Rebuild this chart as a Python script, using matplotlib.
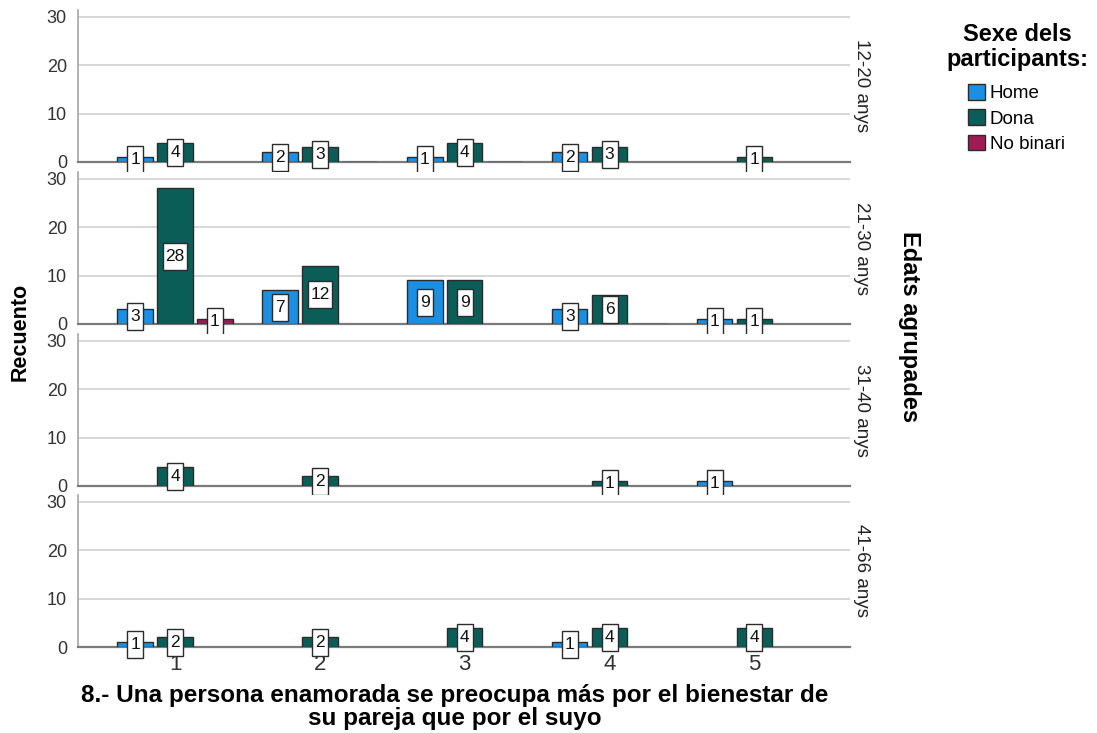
import numpy as np
import matplotlib.pyplot as plt
import matplotlib.transforms as mtransforms
from matplotlib.patches import Rectangle, Patch

plt.rcParams['font.family'] = ['Liberation Sans', 'DejaVu Sans']

# --- DATA ---
categories = [1, 2, 3, 4, 5]
age_groups = ['12-20 anys', '21-30 anys', '31-40 anys', '41-66 anys']
series_names = ['Home', 'Dona', 'No binari']
nan = np.nan
# one row per age group, one column per answer category (nan = no bar)
home = [[1, 2, 1, 2, nan],
        [3, 7, 9, 3, 1],
        [nan, nan, nan, nan, 1],
        [1, nan, nan, 1, nan]]
dona = [[4, 3, 4, 3, 1],
        [28, 12, 9, 6, 1],
        [4, 2, nan, 1, nan],
        [2, 2, 4, 4, 4]]
no_binari = [[nan, 0, 0, nan, nan],
             [1, nan, nan, 0, nan],
             [nan, nan, nan, nan, nan],
             [nan, nan, nan, nan, nan]]
colors = ['#1a8fe3', '#0b5d57', '#a01a55']
yticks = [0, 10, 20, 30]
xlabel = "8.- Una persona enamorada se preocupa más por el bienestar de\nsu pareja que por el suyo"
# -------------

W, H = 1097, 733
fig = plt.figure(figsize=(W / 100, H / 100), dpi=100)

left, right = 78, 850
zero_y = [162, 324, 486, 647]
panel_h = 152
offsets = [-0.275, 0.0, 0.275]
bar_w = 0.245

all_series = [home, dona, no_binari]
x = np.array(categories, dtype=float)

for i, group in enumerate(age_groups):
    ax = fig.add_axes([left / W, 1 - zero_y[i] / H, (right - left) / W, panel_h / H])
    for j, data in enumerate(all_series):
        vals = np.array(data[i], dtype=float)
        mask = ~np.isnan(vals)
        ax.bar(x[mask] + offsets[j], vals[mask], width=bar_w, color=colors[j],
               edgecolor='#2b2b2b', linewidth=1.0, zorder=3)
        # value labels in white boxes at half bar height
        for xc, v in zip(x[mask] + offsets[j], vals[mask]):
            if v == 0:
                continue
            s = str(int(v))
            w_in = (8 + 8 * len(s)) / 100
            h_in = 27 / 100
            trans = fig.dpi_scale_trans + mtransforms.ScaledTranslation(xc, v / 2, ax.transData)
            ax.add_patch(Rectangle((-w_in / 2, -h_in / 2), w_in, h_in, transform=trans,
                                   facecolor='white', edgecolor='#2b2b2b', linewidth=1.0,
                                   zorder=4, clip_on=False))
            ax.text(xc, v / 2, s, ha='center', va='center', fontsize=12.5,
                    color='#111111', zorder=5)

    ax.set_xlim(0.33, 5.66)
    ax.set_ylim(0, 31.4)
    ax.set_yticks(yticks)
    ax.set_xticks(categories)
    ax.yaxis.grid(True, color='#d4d4d4', linewidth=1.3)
    ax.set_axisbelow(True)
    for side in ['top', 'right']:
        ax.spines[side].set_visible(False)
    ax.spines['bottom'].set_color('#7a7a7a')
    ax.spines['bottom'].set_linewidth(1.6)
    ax.spines['left'].set_color('#a6a6a6')
    ax.spines['left'].set_linewidth(1.2)
    ax.tick_params(length=0, labelsize=13, labelcolor='#333333')
    ax.tick_params(axis='y', pad=8)
    if i < len(age_groups) - 1:
        ax.set_xticklabels([])
    else:
        ax.tick_params(axis='x', labelsize=16, pad=5)

    ax.text(1.0155, 0.5, group, transform=ax.transAxes, rotation=270,
            ha='center', va='center', fontsize=13.5, color='#222222')

fig.text(910 / W, 1 - 327 / H, 'Edats agrupades', rotation=270, ha='center', va='center',
         fontsize=17, fontweight='bold')
fig.text(20 / W, 1 - 332 / H, 'Recuento', rotation=90, ha='center', va='center',
         fontsize=15.5, fontweight='bold')
fig.text(455 / W, 1 - 707 / H, xlabel, ha='center', va='center', fontsize=17.5,
         fontweight='bold', linespacing=0.95)

# legend
fig.text(1017 / W, 1 - 47 / H, 'Sexe dels\nparticipants:', ha='center', va='center',
         fontsize=17, fontweight='bold', linespacing=1.1)
handles = [Patch(facecolor=c, edgecolor='#2b2b2b', linewidth=1.0) for c in colors]
fig.legend(handles, series_names, loc='upper left', bbox_to_anchor=(968 / W, 1 - 84 / H),
           frameon=False, fontsize=13.5, handlelength=0.9, handleheight=0.9,
           handletextpad=0.25, labelspacing=0.38, borderpad=0, borderaxespad=0)

fig.savefig('out.png', dpi=100)
